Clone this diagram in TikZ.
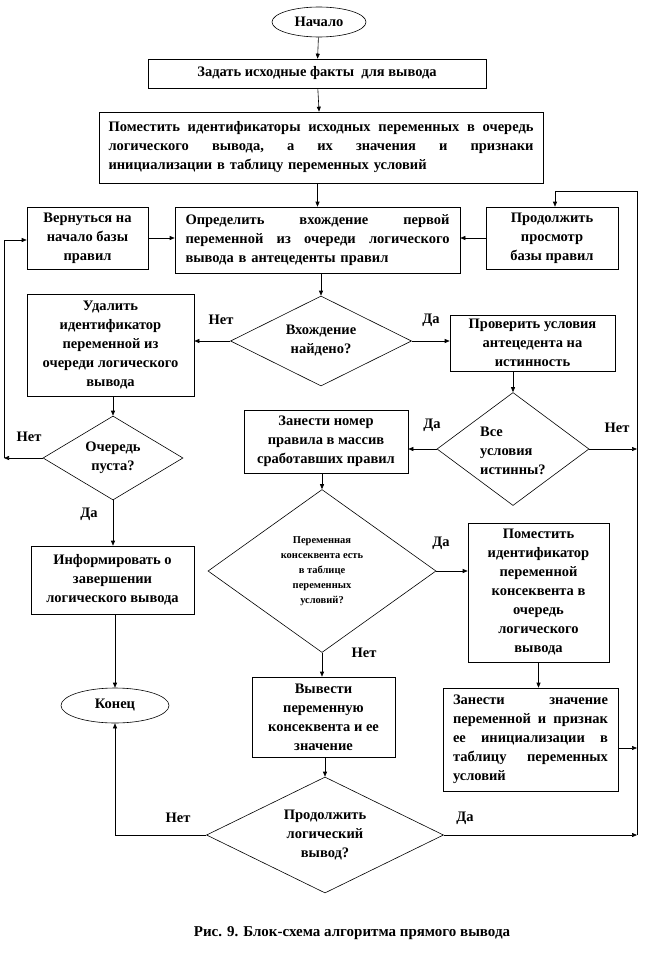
\documentclass[tikz,border=0pt]{standalone}
\usepackage{fontspec}
\setmainfont{Liberation Serif}[BoldFont={Liberation Serif Bold}]
\usetikzlibrary{shapes.geometric,arrows.meta}
\newcommand\jl[2]{\leavevmode\hbox to #1{#2}}
\begin{document}
\begin{tikzpicture}[x=1pt,y=-1pt,
  every node/.style={font=\bfseries\fontsize{14.5}{19}\selectfont},
  arr/.style={line width=0.6pt,-{Triangle[length=5pt,width=4pt]}},
  blk/.style={draw,line width=0.6pt,rectangle,inner sep=0pt,align=center},
  dia/.style={draw,diamond,line width=0.6pt,inner sep=0pt},
  ell/.style={draw,ellipse,line width=0.6pt,inner sep=0pt},
  lbl/.style={inner sep=0pt,align=center}]
\useasboundingbox (0,0) rectangle (669,969);
% nodes
\node[ell,minimum width=94pt,minimum height=30pt] (start) at (319,22) {Начало};
\node[blk,minimum width=338pt,minimum height=29pt] (b1) at (317,73.5) {Задать исходные факты\ \ для вывода};
\node[blk,minimum width=444pt,minimum height=71pt,text width=425pt,align=left] (b2) at (321,147.5)
  {\jl{425pt}{Поместить\hfill идентификаторы\hfill исходных\hfill переменных\hfill в\hfill очередь}\\
   \jl{425pt}{логического\hfill вывода,\hfill а\hfill их\hfill значения\hfill и\hfill признаки}\\
   инициализации в таблицу переменных условий};
\node[blk,minimum width=121pt,minimum height=62pt] (back) at (87.5,238) {Вернуться на\\начало базы\\правил};
\node[blk,minimum width=285pt,minimum height=66pt,text width=264pt,align=left] (det) at (317.5,240)
  {\jl{264pt}{Определить\hfill вхождение\hfill первой}\\
   \jl{264pt}{переменной\hfill из\hfill очереди\hfill логического}\\
   вывода в антецеденты правил};
\node[blk,minimum width=132pt,minimum height=62pt] (cont) at (552,238) {Продолжить\\просмотр\\базы правил};
\node[dia,minimum width=181pt,minimum height=90pt] (d1) at (321,341) {};
\node[lbl] at (d1) {Вхождение\\найдено?};
\node[blk,minimum width=167pt,minimum height=102pt] (del) at (110.5,345) {Удалить\\идентификатор\\переменной из\\очереди логического\\вывода};
\node[blk,minimum width=165pt,minimum height=56pt] (chk) at (532.5,343) {Проверить условия\\антецедента на\\истинность};
\node[dia,minimum width=140pt,minimum height=84pt] (d2) at (113,458) {};
\node[lbl] at (d2) {Очередь\\пуста?};
\node[dia,minimum width=152pt,minimum height=113pt] (d3) at (513,449) {};
\node[lbl,align=left,anchor=west] at (480,451) {Все\\условия\\истинны?};
\node[blk,minimum width=164pt,minimum height=63pt] (num) at (326,441.5) {Занести номер\\правила в массив\\сработавших правил};
\node[blk,minimum width=163pt,minimum height=68pt] (info) at (112.5,580) {Информировать о\\завершении\\логического вывода};
\node[dia,minimum width=228pt,minimum height=163pt] (cons) at (322,571) {};
\node[lbl,font=\bfseries\fontsize{10.5}{15}\selectfont] at (cons) {Переменная\\консеквента есть\\в таблице\\переменных\\условий?};
\node[blk,minimum width=141pt,minimum height=139pt] (put) at (538.5,592.5) {Поместить\\идентификатор\\переменной\\консеквента в\\очередь\\логического\\вывода};
\node[ell,minimum width=108pt,minimum height=35pt] (end) at (115,705.5) {Конец};
\node[blk,minimum width=143pt,minimum height=80pt] (out) at (323.5,717) {Вывести\\переменную\\консеквента и ее\\значение};
\node[blk,minimum width=175pt,minimum height=103pt,text width=155pt,align=left] (set) at (530.5,739.5)
  {\jl{155pt}{Занести\hfill значение}\\
   \jl{155pt}{переменной\hfill и\hfill признак}\\
   \jl{155pt}{ее\hfill инициализации\hfill в}\\
   \jl{155pt}{таблицу\hfill переменных}\\
   условий};
\node[dia,minimum width=237pt,minimum height=116pt] (d4) at (325,835) {};
\node[lbl] at (d4) {Продолжить\\логический\\вывод?};
% labels
\node[lbl] (l1) at (221,320) {Нет};
\node[lbl] (l2) at (431,320) {Да};
\node[lbl] (l3) at (29,437) {Нет};
\node[lbl] (l4) at (432,425) {Да};
\node[lbl] (l5) at (617,428) {Нет};
\node[lbl] (l6) at (89,514) {Да};
\node[lbl] (l7) at (441,543) {Да};
\node[lbl] (l8) at (364,653) {Нет};
\node[lbl] (l9) at (178,818) {Нет};
\node[lbl] (l10) at (465,818) {Да};
\node[lbl,font=\bfseries\fontsize{15}{19}\selectfont] (cap) at (352,933) {Рис. 9. Блок-схема алгоритма прямого вывода};
% bus coordinates
\coordinate (busTop) at (637,191);
\coordinate (busTurn) at (555,191);
\coordinate (busA) at (637,449);
\coordinate (busB) at (637,748);
\coordinate (busC) at (637,835);
\coordinate (lbus) at (4,458);
\coordinate (lbusTop) at (4,240);
% connectors
\draw[arr] (start) -- (b1);
\draw[arr] (b1) -- (b2);
\draw[arr] (b2.south -| det.north) -- (det.north);
\draw[arr] (back.east) -- (back.east -| det.west);
\draw[arr] (cont.west) -- (cont.west -| det.east);
\draw[arr] (busC) -- (busTop) -- (busTurn) -- (busTurn |- cont.north);
\draw[arr] (det.south -| d1.north) -- (d1.north);
\draw[arr] (d1.west) -- (d1.west -| del.east);
\draw[arr] (d1.east) -- (d1.east -| chk.west);
\draw[arr] (del.south -| d2.north) -- (d2.north);
\draw[arr] (d2.west) -- (lbus);
\draw[arr] (lbus) -- (lbusTop) -- (lbusTop -| back.west);
\draw[arr] (chk.south -| d3.north) -- (d3.north);
\draw[arr] (d3.west) -- (d3.west -| num.east);
\draw[arr] (d3.east) -- (busA);
\draw[arr] (num.south -| cons.north) -- (cons.north);
\draw[arr] (d2.south) -- (d2.south |- info.north);
\draw[arr] (info.south -| end.north) -- (end.north);
\draw[arr] (cons.east) -- (cons.east -| put.west);
\draw[arr] (cons.south) -- (cons.south |- out.north);
\draw[arr] (put.south) -- (put.south |- set.north);
\draw[arr] (set.east |- busB) -- (busB);
\draw[arr] (out.south -| d4.north) -- (d4.north);
\draw[arr] (d4.east) -- (busC);
\draw[arr] (d4.west) -- (d4.west -| end.south) -- (end.south);
\end{tikzpicture}
\end{document}
